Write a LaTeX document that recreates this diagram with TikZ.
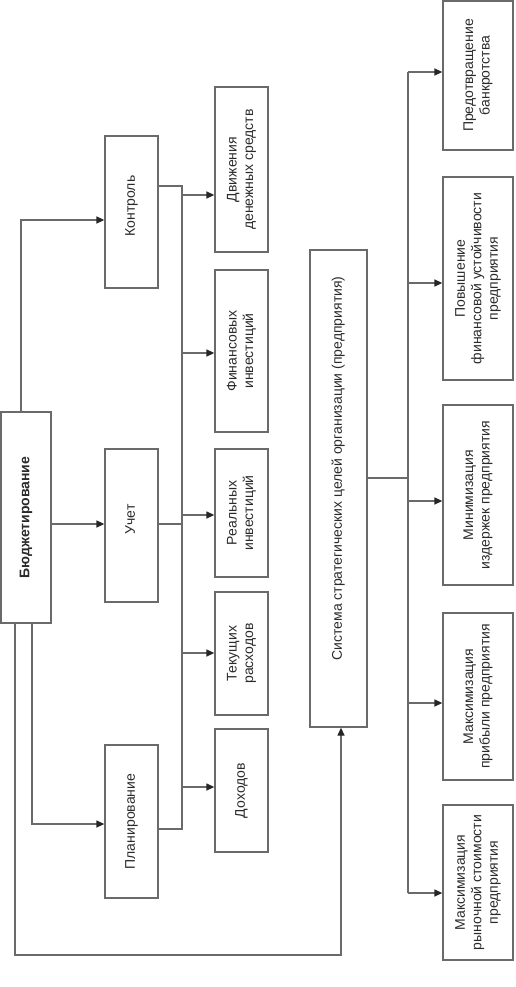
\documentclass[tikz,border=0pt]{standalone}
\usepackage{fontspec}
\setmainfont{Liberation Sans}
\usetikzlibrary{arrows.meta}
\definecolor{ln}{HTML}{6A6A6A}
\definecolor{tx}{HTML}{2A2A2A}
\newcommand{\vt}[1]{\rotatebox{90}{\begin{tabular}{@{}c@{}}#1\end{tabular}}}
\tikzset{
  box/.style={draw=ln, line width=1.3pt, inner sep=0pt, text=tx, font=\fontsize{14}{16.5}\selectfont},
  con/.style={draw=ln, line width=1.3pt},
  arr/.style={con, -{Triangle[length=8pt,width=7pt,color=black!85]}},
}
\begin{document}
\begin{tikzpicture}[x=1pt,y=-1pt]
\useasboundingbox (0,0) rectangle (515,987);
% left column
\node[box, minimum width=50pt, minimum height=211pt, font=\fontsize{14}{16.5}\selectfont\bfseries] (bud) at (26,517.5) {\vt{Бюджетирование}};
\node[box, minimum width=53pt, minimum height=152pt] (kon) at (131.5,212) {\vt{\hspace*{12pt}Контроль}};
\node[box, minimum width=53pt, minimum height=153pt] (uch) at (131.5,525.5) {\vt{\hspace*{12pt}Учет}};
\node[box, minimum width=53pt, minimum height=153pt] (plan) at (131.5,821.5) {\vt{Планирование}};
% middle column
\node[box, minimum width=53pt, minimum height=165pt] (dvi) at (241.5,169.5) {\vt{Движения\\денежных средств}};
\node[box, minimum width=53pt, minimum height=162pt] (fin) at (241.5,351) {\vt{Финансовых\\инвестиций}};
\node[box, minimum width=53pt, minimum height=128pt] (real) at (241.5,513) {\vt{Реальных\\инвестиций}};
\node[box, minimum width=53pt, minimum height=123pt] (tek) at (241.5,653.5) {\vt{Текущих\\расходов}};
\node[box, minimum width=53pt, minimum height=123pt] (doh) at (241.5,790.5) {\vt{Доходов}};
% system
\node[box, minimum width=57pt, minimum height=477pt] (sys) at (338.5,488.5) {\vt{\hspace*{40pt}Система стратегических целей организации (предприятия)}};
% right column
\node[box, minimum width=70pt, minimum height=149pt] (pred) at (478,75.5) {\vt{Предотвращение\\банкротства}};
\node[box, minimum width=70pt, minimum height=203pt] (pov) at (478,278.5) {\vt{Повышение\\финансовой устойчивости\\предприятия}};
\node[box, minimum width=70pt, minimum height=180pt] (min) at (478,495) {\vt{Минимизация\\издержек предприятия}};
\node[box, minimum width=70pt, minimum height=167pt] (maxp) at (478,696.5) {\vt{Максимизация\\прибыли предприятия}};
\node[box, minimum width=70pt, minimum height=155pt] (maxr) at (478,882.5) {\vt{Максимизация\\рыночной стоимости\\предприятия}};
% bus coordinates
\coordinate (b1) at (182,186);
\coordinate (b2) at (182,829);
\coordinate (s1) at (408,72);
\coordinate (s2) at (408,893);
\coordinate (lp) at (15,955);
% from Бюджетирование
\draw[arr] (bud.north -| 21,0) |- (kon.west |- 0,220);
\draw[arr] (bud.east |- 0,524) -- (uch.west |- 0,524);
\draw[arr] (bud.south -| 32,0) |- (plan.west |- 0,824);
\draw[arr] (bud.south -| lp) -- (lp) -| (sys.south -| 341,0);
% left bus
\draw[con] (kon.east |- b1) -- (b1) -- (b2) -- (plan.east |- b2);
\draw[con] (uch.east |- 0,524) -- (b1 |- 0,524);
\draw[arr] (b1 |- 0,195) -- (dvi.west |- 0,195);
\draw[arr] (b1 |- 0,353) -- (fin.west |- 0,353);
\draw[arr] (b1 |- 0,515) -- (real.west |- 0,515);
\draw[arr] (b1 |- 0,653) -- (tek.west |- 0,653);
\draw[arr] (b1 |- 0,787) -- (doh.west |- 0,787);
% right bus
\draw[con] (sys.east |- 0,478) -- (s1 |- 0,478);
\draw[con] (s1) -- (s2);
\draw[arr] (s1) -- (pred.west |- s1);
\draw[arr] (s1 |- 0,283) -- (pov.west |- 0,283);
\draw[arr] (s1 |- 0,501) -- (min.west |- 0,501);
\draw[arr] (s1 |- 0,703) -- (maxp.west |- 0,703);
\draw[arr] (s2) -- (maxr.west |- s2);
\end{tikzpicture}
\end{document}
